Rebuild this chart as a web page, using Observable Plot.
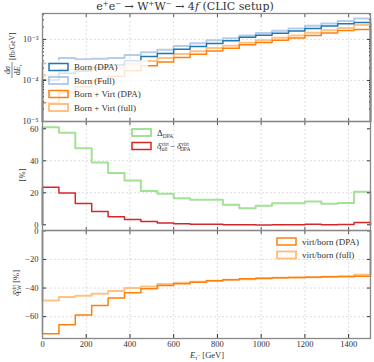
<!DOCTYPE html>
<html><head><meta charset="utf-8">
<script src="https://cdn.jsdelivr.net/npm/d3@7"></script>
<script src="https://cdn.jsdelivr.net/npm/@observablehq/plot@0.6"></script>
<style>
body{margin:0;background:#fff;}
#c{position:relative;width:374px;height:362px;font-family:"Liberation Serif","DejaVu Serif",serif;}
#c > svg{position:absolute;left:0;overflow:visible;}
</style></head><body><div id="c"></div>
<script>
const binEdges = [0,75,150,225,300,375,450,525,600,675,750,825,900,975,1050,1125,1200,1275,1350,1425,1500];
const xTicks = [0,200,400,600,800,1000,1200,1400];

const bornDPA  = [1.02e-4,1.49e-4,1.70e-4,2.06e-4,2.38e-4,3.03e-4,3.81e-4,4.54e-4,5.77e-4,6.75e-4,7.97e-4,9.25e-4,1.12e-3,1.26e-3,1.41e-3,1.60e-3,1.84e-3,2.12e-3,2.41e-3,2.56e-3];
const bornFull = [2.62e-4,3.51e-4,3.26e-4,3.37e-4,3.51e-4,4.19e-4,4.84e-4,5.63e-4,6.92e-4,8.0e-4,9.46e-4,1.06e-3,1.25e-3,1.43e-3,1.63e-3,1.85e-3,2.15e-3,2.44e-3,2.79e-3,3.22e-3];
const bvDPA    = [2.86e-5,5.11e-5,6.99e-5,9.85e-5,1.26e-4,1.72e-4,2.27e-4,2.81e-4,3.64e-4,4.33e-4,5.19e-4,6.09e-4,7.45e-4,8.43e-4,9.48e-4,1.08e-3,1.24e-3,1.44e-3,1.64e-3,1.75e-3];
const bvFull   = [1.34e-4,1.89e-4,1.78e-4,1.89e-4,2.03e-4,2.51e-4,2.96e-4,3.54e-4,4.41e-4,5.15e-4,6.16e-4,6.96e-4,8.28e-4,9.54e-4,1.10e-3,1.25e-3,1.45e-3,1.66e-3,1.90e-3,2.23e-3];

const deltaDPA = [61,57.5,47.9,38.9,32.3,27.7,21.2,19.4,16.6,15.6,15.7,12.5,10.4,11.9,13.5,13.5,14.6,13.1,13.7,20.6];
const deltaVirt = [23.5,19.8,13.3,8.3,5.0,3.3,2.1,1.2,0.6,0.3,0.3,0.1,0.0,-0.1,0.1,0.0,0.3,0.1,0.2,1.4];

const virtBornDPA  = [-72,-65.7,-58.9,-52.2,-47,-43.3,-40.5,-38.2,-37,-35.9,-34.9,-34.2,-33.5,-33.1,-32.8,-32.6,-32.4,-32.1,-31.9,-31.7];
const virtBornFull = [-48.7,-46.3,-45.4,-44,-42.1,-40,-38.9,-37.2,-36.3,-35.6,-34.9,-34.2,-33.8,-33.3,-32.8,-32.6,-32.4,-32.1,-31.9,-30.7];

const logMajor = [1e-5,1e-4,1e-3];
const logMinor = [2e-5,3e-5,4e-5,5e-5,6e-5,7e-5,8e-5,9e-5,2e-4,3e-4,4e-4,5e-4,6e-4,7e-4,8e-4,9e-4,2e-3,3e-3,4e-3];
const p2Ticks = [0,20,40,60];
const p3Ticks = [-60,-40,-20,0];

const C = {blue:"#1f77b4", lblue:"#aec7e8", orange:"#ff7f0e", lorange:"#ffbb78", green:"#98df8a", red:"#d62728"};

function steps(vals, base){
  const pts = [{x:binEdges[0], y:base}];
  vals.forEach((v,i)=>{pts.push({x:binEdges[i],y:v}); pts.push({x:binEdges[i+1],y:v});});
  pts.push({x:binEdges[binEdges.length-1], y:base});
  return pts;
}
function stepMark(vals, base, color, light){
  return Plot.line(steps(vals, base), {x:"x", y:"y", stroke:color, strokeWidth: light?2:1.5, strokeOpacity: light?0.9:1});
}
const sup = {"-":"⁻","0":"⁰","1":"¹","2":"²","3":"³","4":"⁴","5":"⁵","6":"⁶","7":"⁷","8":"⁸","9":"⁹"};
const logFmt = d => "10" + String(Math.round(Math.log10(d))).split("").map(c=>sup[c]).join("");
const blank = () => "";
const grid = {stroke:"#bbb", strokeOpacity:0.8, strokeDasharray:"2,2", strokeWidth:0.6};
const style = {fontFamily:'"Liberation Serif","DejaVu Serif",serif', fontSize:"8.5px", color:"#333", background:"transparent", overflow:"visible"};
const frame = Plot.frame({stroke:"#888", strokeWidth:1.3});
function xInnerTicks(anchor){ return Plot.axisX(xTicks, {anchor, tickSize:-3, tickFormat:blank, label:null, stroke:"#555"}); }

const root = document.getElementById("c");
function place(svg, top){ svg.style.top = top+"px"; root.appendChild(svg); }

// Panel 1
const p1 = Plot.plot({
  width:374, height:121, marginLeft:42, marginRight:4, marginTop:13, marginBottom:0,
  style,
  x:{domain:[0,1500], axis:null},
  y:{type:"log", domain:[1e-5, 4.27e-3], axis:null},
  marks:[
    Plot.gridX(xTicks.slice(1), grid),
    Plot.gridY([1e-4,1e-3], grid),
    stepMark(bornFull, 1e-5, C.lblue, true),
    stepMark(bvFull, 1e-5, C.lorange, true),
    stepMark(bornDPA, 1e-5, C.blue, false),
    stepMark(bvDPA, 1e-5, C.orange, false),
    Plot.axisY(logMajor, {anchor:"left", tickSize:-4, tickPadding:8, tickFormat:logFmt, label:null, fontSize:"8.5px"}),
    Plot.axisY(logMinor, {anchor:"left", tickSize:-2, tickFormat:blank, label:null}),
    Plot.axisY(logMajor, {anchor:"right", tickSize:-4, tickFormat:blank, label:null}),
    Plot.axisY(logMinor, {anchor:"right", tickSize:-2, tickFormat:blank, label:null}),
    xInnerTicks("top"), xInnerTicks("bottom"),
    frame
  ]
});
place(p1, 0);

// Panel 2
const p2 = Plot.plot({
  width:374, height:109, marginLeft:42, marginRight:4, marginTop:0, marginBottom:0,
  style,
  x:{domain:[0,1500], axis:null},
  y:{domain:[-3.56,64.56], axis:null},
  marks:[
    Plot.gridX(xTicks.slice(1), grid),
    Plot.gridY([20,40], grid),
    stepMark(deltaDPA, 0, C.green, true),
    stepMark(deltaVirt, 0, C.red, false),
    Plot.axisY(p2Ticks, {anchor:"left", tickSize:-4, tickPadding:8, label:null}),
    Plot.axisY(p2Ticks, {anchor:"right", tickSize:-4, tickFormat:blank, label:null}),
    xInnerTicks("top"), xInnerTicks("bottom"),
    frame
  ]
});
place(p2, 121);

// Panel 3
const p3 = Plot.plot({
  width:374, height:132, marginLeft:42, marginRight:4, marginTop:0, marginBottom:24,
  style,
  x:{domain:[0,1500], axis:null},
  y:{domain:[-75.3,0.25], axis:null},
  marks:[
    Plot.gridX(xTicks.slice(1), grid),
    Plot.gridY([-60,-40,-20], grid),
    stepMark(virtBornFull, 0, C.lorange, true),
    stepMark(virtBornDPA, 0, C.orange, false),
    Plot.axisY(p3Ticks, {anchor:"left", tickSize:-4, tickPadding:8, label:null, tickFormat:d=>d<0?"−"+Math.abs(d):String(d)}),
    Plot.axisY(p3Ticks, {anchor:"right", tickSize:-4, tickFormat:blank, label:null}),
    Plot.axisX(xTicks, {anchor:"bottom", tickSize:-4, tickPadding:6.5, label:null, tickFormat:d=>String(d)}),
    xInnerTicks("top"),
    frame
  ]
});
place(p3, 230);

// Overlay: title, axis labels, legends
const ov = d3.create("svg").attr("width",374).attr("height",362).style("top","0px")
  .attr("font-family",'"Liberation Serif","DejaVu Serif",serif').attr("fill","#333");
ov.append("text").attr("x",185).attr("y",9.5).attr("text-anchor","middle").attr("font-size","11px")
  .attr("font-family",'"DejaVu Serif",serif')
  .html('e<tspan dy="-3.5" font-size="7px">+</tspan><tspan dy="3.5">e</tspan><tspan dy="-3.5" font-size="7px">−</tspan><tspan dy="3.5"> → W</tspan><tspan dy="-3.5" font-size="7px">+</tspan><tspan dy="3.5">W</tspan><tspan dy="-3.5" font-size="7px">−</tspan><tspan dy="3.5"> → 4</tspan><tspan font-style="italic">f</tspan> (CLIC setup)');

// panel 1 y label (rotated)
const g1 = ov.append("g").attr("transform","translate(12,70) rotate(-90)");
g1.append("text").attr("x",0).attr("y",-2.5).attr("text-anchor","middle").attr("font-size","8px")
  .html('d<tspan font-style="italic">σ</tspan>');
g1.append("line").attr("x1",-8).attr("x2",8).attr("y1",0).attr("y2",0).attr("stroke","#333").attr("stroke-width",0.6);
g1.append("text").attr("x",0).attr("y",8).attr("text-anchor","middle").attr("font-size","8px")
  .html('d<tspan font-style="italic">E</tspan><tspan font-size="5px" dy="2" font-style="italic">τ</tspan>');
g1.append("text").attr("x",10).attr("y",2.5).attr("text-anchor","start").attr("font-size","7.5px").text("[fb/GeV]");

// panel 2 y label
ov.append("text").attr("transform","translate(25,175) rotate(-90)").attr("text-anchor","middle").attr("font-size","8.5px").text("[%]");
// panel 3 y label
ov.append("text").attr("transform","translate(19,283) rotate(-90)").attr("text-anchor","middle").attr("font-size","8.5px")
  .html('<tspan font-style="italic">δ</tspan><tspan font-size="5.5px" dy="-3">virt</tspan><tspan font-size="5.5px" dx="-9" dy="5">EW</tspan><tspan dy="-2"> [%]</tspan>');
// x label
ov.append("text").attr("x",207).attr("y",357.5).attr("text-anchor","middle").attr("font-size","8.5px")
  .html('<tspan font-style="italic">E</tspan><tspan font-size="5.5px" dy="2" font-style="italic">τ</tspan><tspan font-size="5.5px" dy="-3">−</tspan><tspan dy="1"> [GeV]</tspan>');

// semi-transparent legend background for panel 1
ov.append("rect").attr("x",46).attr("y",60).attr("width",102).attr("height",54).attr("fill","#fff").attr("fill-opacity",0.8);

function legendItem(x, y, color, html, sw){
  ov.append("rect").attr("x",x).attr("y",y-3.5).attr("width",19).attr("height",7)
    .attr("fill","none").attr("stroke",color).attr("stroke-width",sw);
  ov.append("text").attr("x",x+25).attr("y",y+3).attr("font-size","9px").html(html);
}
legendItem(49,67,C.blue,"Born (DPA)",1.5);
legendItem(49,80.5,C.lblue,"Born (Full)",1.8);
legendItem(49,94,C.orange,"Born + Virt (DPA)",1.5);
legendItem(49,107.5,C.lorange,"Born + Virt (full)",1.8);

legendItem(132,132.5,C.green,'Δ<tspan font-size="5.5px" dy="2">DPA</tspan>',1.8);
legendItem(132,146,C.red,'<tspan font-style="italic">δ</tspan><tspan font-size="5.5px" dy="-3">virt</tspan><tspan font-size="5.5px" dx="-9" dy="5">full</tspan><tspan dy="-2"> − </tspan><tspan font-style="italic">δ</tspan><tspan font-size="5.5px" dy="-3">virt</tspan><tspan font-size="5.5px" dx="-9" dy="5">DPA</tspan>',1.5);

legendItem(277,241.5,C.orange,"virt/born (DPA)",1.5);
legendItem(277,255,C.lorange,"virt/born (full)",1.8);

root.appendChild(ov.node());
</script></body></html>
